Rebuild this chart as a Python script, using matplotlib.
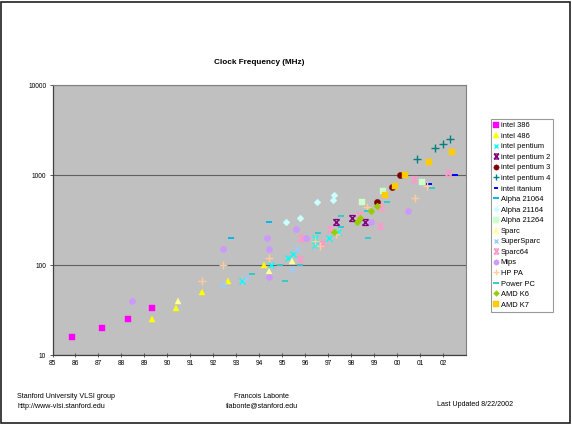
import matplotlib
matplotlib.use('Agg')
import matplotlib.pyplot as plt
from matplotlib.path import Path
from matplotlib.patches import Rectangle
import numpy as np

plt.rcParams['font.family'] = ['Liberation Sans', 'DejaVu Sans']

# Data (year as 85..102, clock in MHz)
labels = ['intel 386', 'intel 486', 'intel pentium', 'intel pentium 2', 'intel pentium 3',
          'intel pentium 4', 'intel itanium', 'Alpha 21064', 'Alpha 21164', 'Alpha 21264',
          'Sparc', 'SuperSparc', 'Sparc64', 'Mips', 'HP PA', 'Power PC', 'AMD K6', 'AMD K7']

i386_year = [85.86, 87.17, 88.30, 89.31]
i386_mhz = [16, 20, 25, 33]
i486_year = [89.31, 90.38, 91.49, 92.64, 94.20]
i486_mhz = [25, 33, 50, 66, 100]
pentium_year = [93.25, 94.49, 95.25, 95.47, 96.41, 96.41, 97.02, 97.41]
pentium_mhz = [66, 100, 120, 133, 200, 166, 200, 233]
p2_year = [97.33, 98.05, 98.62]
p2_mhz = [300, 333, 300]
p3_year = [99.12, 99.77, 100.12]
p3_mhz = [500, 733, 1000]
p4_year = [100.86, 101.63, 101.98, 102.30]
p4_mhz = [1500, 2000, 2200, 2530]
itanium_year = [101.41, 102.50]
itanium_mhz = [800, 1000]
a21064_year = [92.78, 94.43]
a21064_mhz = [200, 300]
a21164_year = [95.15, 95.76, 96.51, 97.20, 97.24]
a21164_mhz = [300, 330, 500, 533, 600]
a21264_year = [98.47, 99.38, 101.08]
a21264_mhz = [500, 667, 833]
sparc_year = [90.46, 94.43, 95.43]
sparc_mhz = [40, 86, 110]
supersparc_year = [92.43, 93.44, 95.43, 95.64]
supersparc_mhz = [60, 72, 90, 150]
sparc64_year = [95.76, 95.83, 96.73, 97.07, 98.34, 99.24, 99.30, 100.73, 102.20]
sparc64_mhz = [117, 200, 171, 250, 360, 270, 444, 894, 1040]
mips_year = [88.47, 92.43, 94.34, 94.41, 94.43, 95.59, 96.05, 98.88, 100.47]
mips_mhz = [40, 150, 200, 150, 74, 250, 200, 300, 400]
hppa_year = [91.49, 92.43, 94.43, 96.41, 96.66, 97.33, 98.67, 100.80, 101.30]
hppa_mhz = [66, 100, 120, 185, 164, 220, 440, 550, 750]
ppc_year = [93.69, 94.92, 95.11, 95.76, 96.56, 97.55, 97.55, 98.68, 98.73, 99.56, 101.51]
ppc_mhz = [80, 100, 66, 100, 225, 266, 350, 400, 200, 500, 720]
k6_year = [97.24, 98.25, 98.40, 98.85, 99.12]
k6_mhz = [233, 300, 333, 400, 450]
k7_year = [99.46, 99.89, 100.33, 101.41, 102.38]
k7_mhz = [600, 750, 1000, 1400, 1800]

year_ticks = list(range(85, 103))
year_tick_labels = ['%02d' % (y % 100) for y in year_ticks]

# excel-like "star" marker: x with bars on top and bottom
star = Path([(-1, -1), (1, 1), (-1, 1), (1, -1), (-1, 1), (1, 1), (-1, -1), (1, -1)],
            [Path.MOVETO, Path.LINETO] * 4)

styles = [
    ('s', '#FF00FF', 4.4), ('^', '#FFFF00', 4.7), ('x', '#00FFFF', 4.2), (star, '#800080', 4.2),
    ('o', '#800000', 4.5), ('+', '#008080', 5.2), ('_', '#0000FF', 4.2), ('_', '#00B8F0', 4.7),
    ('D', '#CCFFFF', 3.5), ('s', '#CCFFCC', 4.5), ('^', '#FFFF99', 4.7), ('x', '#99CCFF', 4.2),
    (star, '#FF99CC', 4.2), ('o', '#CC99FF', 4.5), ('+', '#FFCC99', 5.2), ('_', '#33CCCC', 4.7),
    ('D', '#99CC00', 3.5), ('s', '#FFCC00', 4.5)]

years = [i386_year, i486_year, pentium_year, p2_year, p3_year, p4_year, itanium_year,
         a21064_year, a21164_year, a21264_year, sparc_year, supersparc_year, sparc64_year,
         mips_year, hppa_year, ppc_year, k6_year, k7_year]
mhz = [i386_mhz, i486_mhz, pentium_mhz, p2_mhz, p3_mhz, p4_mhz, itanium_mhz,
       a21064_mhz, a21164_mhz, a21264_mhz, sparc_mhz, supersparc_mhz, sparc64_mhz,
       mips_mhz, hppa_mhz, ppc_mhz, k6_mhz, k7_mhz]

fig = plt.figure(figsize=(5.72, 4.33), dpi=100)
ax = fig.add_axes([52.5/572, 78/433, (466-52.5)/572, 270/433])
ax.set_facecolor('#C0C0C0')

for k in range(len(labels)):
    m, c, ms = styles[k]
    line_marker = m in ('x', '+', '_') or isinstance(m, Path)
    ax.plot(years[k], mhz[k], linestyle='none', marker=m, markersize=ms, label=labels[k],
            color=c, markerfacecolor=c, markeredgecolor=c,
            markeredgewidth=1.4 if m == '_' else (1.0 if line_marker else 0.3))

ax.set_yscale('log')
ax.set_ylim(10, 10000)
ax.set_xlim(85, 103)
ax.set_yticks([10, 100, 1000, 10000])
ax.set_yticklabels(['10', '100', '1000', '10000'])
ax.yaxis.set_minor_locator(matplotlib.ticker.NullLocator())
ax.set_xticks(year_ticks)
ax.set_xticklabels(year_tick_labels)
ax.tick_params(axis='both', labelsize=4.8, length=2.5, width=0.6, color='#404040', pad=2)
ax.tick_params(axis='x', direction='inout', length=3)
ax.grid(axis='y', color='#606060', linewidth=0.8)
for s in ['left', 'bottom']:
    ax.spines[s].set_color('#404040')
    ax.spines[s].set_linewidth(0.9)
for s in ['top', 'right']:
    ax.spines[s].set_color('#808080')
    ax.spines[s].set_linewidth(0.8)

fig.text(259/572, 1 - 62/433, 'Clock Frequency (MHz)', ha='center', va='center',
         fontsize=5.9, fontweight='bold')

leg = fig.legend(loc='upper left', bbox_to_anchor=(491/572, 1 - 119/433), fontsize=5.4,
                 frameon=True, fancybox=False, edgecolor='#808080', labelspacing=0.44,
                 handlelength=0.6, handletextpad=0.3, borderpad=0.4, borderaxespad=0,
                 markerscale=0.85)
leg.get_frame().set_linewidth(0.8)

# footer
fig.text(17/572, 1 - 396/433, 'Stanford University VLSI group', fontsize=5.1, va='center')
fig.text(17/572, 1 - 406/433, 'http://www-vlsi.stanford.edu', fontsize=5.1, va='center')
fig.text(262/572, 1 - 396/433, 'Francois Labonte', fontsize=5.1, va='center', ha='center')
fig.text(262/572, 1 - 406/433, 'flabonte@stanford.edu', fontsize=5.1, va='center', ha='center')
fig.text(513/572, 1 - 404/433, 'Last Updated 8/22/2002', fontsize=5.1, va='center', ha='right')

# outer frame of the chart
fig.patches.append(Rectangle((1/572, 1 - 423/433), 569/572, 421/433, transform=fig.transFigure,
                             fill=False, edgecolor='#202020', linewidth=1.2))

plt.savefig('out.png', dpi=100)
